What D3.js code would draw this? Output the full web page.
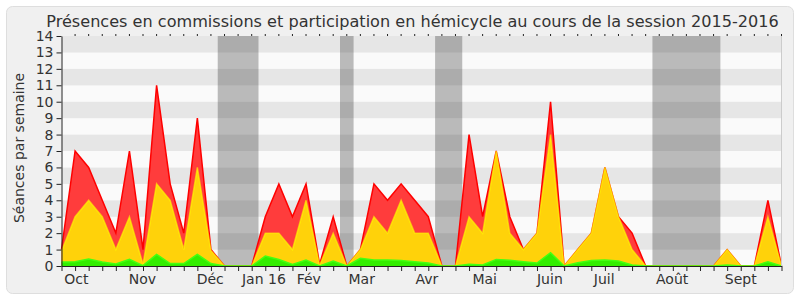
<!DOCTYPE html>
<html>
<head>
<meta charset="utf-8">
<script src="https://d3js.org/d3.v7.min.js"></script>
<style>
  body { margin: 0; background: #fff; }
  text { font-family: "DejaVu Sans", Verdana, sans-serif; fill: #333; }
</style>
</head>
<body>
<script>
const svgWidth = 800,
    svgHeight = 300,
    margin = { top: 36, right: 20, bottom: 34, left: 61.5 },
    width = svgWidth - margin.left - margin.right,
    height = svgHeight - margin.top - margin.bottom;

// one value per week, from the start of the session (week 0) to week 53
var hemicycle = [1, 7, 6, 4, 2, 7, 1, 11, 5, 2, 9, 1, 0, 0, 0, 3, 5, 3, 5, 0.1, 3, 0, 1, 5, 4, 5, 4, 3, 0, 0,
    8, 3, 7, 3, 1, 2, 10, 0, 1, 2, 6, 3, 2, 0, 0, 0, 0, 0, 0, 1, 0, 0, 4, 0];
var commissions = [0.9, 3, 4, 3, 1, 3, 0.1, 5, 4, 1, 6, 0.95, 0, 0, 0, 2, 2, 1, 4, 0.05, 2, 0, 1, 3, 2, 4, 2, 2, 0, 0,
    3, 2, 7, 2, 1, 2, 8, 0, 1, 2, 6, 3, 1, 0, 0, 0, 0, 0, 0, 1, 0, 0, 3, 0];
var interventions = [0.25, 0.26, 0.43, 0.25, 0.12, 0.4, 0.02, 0.71, 0.15, 0.15, 0.71, 0.15, 0, 0, 0, 0.6, 0.4, 0.1, 0.36, 0, 0.3, 0,
    0.47, 0.36, 0.36, 0.33, 0.26, 0.18, 0, 0, 0.1, 0.06, 0.4, 0.35, 0.26, 0.18, 0.81, 0, 0.2, 0.33, 0.36, 0.3, 0.06,
    0, 0, 0, 0, 0, 0, 0.06, 0, 0, 0.26, 0];

// vacations (in weeks)
var vacStart = [11.5, 20.5, 27.5, 43.5],
    vacEnd = [14.5, 21.5, 29.5, 48.5];

// month labels and their position (in weeks)
var months = ["Oct", "Nov", "Déc", "Jan 16", "Fév", "Mar", "Avr", "Mai", "Juin", "Juil", "Août", "Sept"],
    monthPos = [1.1, 5.95, 10.95, 14.9, 18.2, 22.1, 26.9, 31.15, 35.95, 39.95, 44.95, 50];

var yTicks = d3.range(0, 15);
var weeks = d3.range(0, hemicycle.length);

var svg = d3.select("body").append("svg")
    .attr("width", svgWidth)
    .attr("height", svgHeight);

// frame
svg.append("rect")
    .attr("x", 6.5).attr("y", 6.5)
    .attr("width", 787).attr("height", 287)
    .attr("rx", 6)
    .attr("fill", "#f0f0f0")
    .attr("stroke", "#dedede");

svg.append("text")
    .attr("x", 412.5)
    .attr("y", 26.5)
    .attr("text-anchor", "middle")
    .attr("font-size", 16.1)
    .text("Présences en commissions et participation en hémicycle au cours de la session 2015-2016");

var g = svg.append("g")
    .attr("transform", "translate(" + margin.left + "," + margin.top + ")");

var x = d3.scaleLinear().domain([0, weeks.length - 1]).range([0, width + 1.5]),
    y = d3.scaleLinear().domain([0, 14]).range([height, 0]);

// stripes
g.append("g").selectAll("rect")
    .data(yTicks.slice(0, 14))
    .enter().append("rect")
    .attr("x", 0)
    .attr("width", x(weeks.length - 1))
    .attr("y", function (d) { return y(d + 1); })
    .attr("height", function (d) { return y(d) - y(d + 1); })
    .attr("fill", function (d) { return d % 2 ? "#e6e6e6" : "#fafafa"; });

// vacation bands
g.append("g").selectAll("rect")
    .data(vacStart)
    .enter().append("rect")
    .attr("x", function (d) { return x(d); })
    .attr("width", function (d, i) { return x(vacEnd[i]) - x(d); })
    .attr("y", 0)
    .attr("height", height)
    .attr("fill", "rgba(40,40,40,0.3)");

function area(values) {
    return d3.area()
        .x(function (d, i) { return x(i); })
        .y0(y(0))
        .y1(function (d) { return y(d); })(values);
}
function line(values) {
    return d3.line()
        .x(function (d, i) { return x(i); })
        .y(function (d) { return y(d); })(values);
}

var series = [
    { values: hemicycle, fill: "#ff3c3c", stroke: "#ff0000" },
    { values: commissions, fill: "#ffd20a", stroke: "rgba(255,255,0,0.6)" },
    { values: interventions, fill: "#33ee00", stroke: "#44ff11" }
];

series.forEach(function (s) {
    g.append("path")
        .attr("d", area(s.values))
        .attr("fill", s.fill);
    g.append("path")
        .attr("d", line(s.values))
        .attr("fill", "none")
        .attr("stroke", s.stroke)
        .attr("stroke-width", 1.5);
});

// right border
g.append("line")
    .attr("x1", x(weeks.length - 1)).attr("x2", x(weeks.length - 1))
    .attr("y1", 0).attr("y2", height)
    .attr("stroke", "#ccc");

// y axis
var yAxis = g.append("g")
    .call(d3.axisLeft(y).tickValues(yTicks).tickSize(5).tickPadding(3).tickSizeOuter(0));
yAxis.selectAll("text").attr("font-size", 14).attr("fill", "#333")
    .style("font-family", "'DejaVu Sans', Verdana, sans-serif");
yAxis.selectAll("line, path").attr("stroke", "#222");

// bottom week ticks
var xAxis = g.append("g")
    .attr("transform", "translate(0," + height + ")")
    .call(d3.axisBottom(x).tickValues(weeks).tickSize(5).tickFormat("").tickSizeOuter(0));
xAxis.selectAll("line, path").attr("stroke", "#222");

// top small ticks
g.append("g").selectAll("line")
    .data(weeks.slice(1))
    .enter().append("line")
    .attr("x1", function (d) { return x(d); })
    .attr("x2", function (d) { return x(d); })
    .attr("y1", -2).attr("y2", 0)
    .attr("stroke", "#222");

// month labels
g.append("g").selectAll("text")
    .data(months)
    .enter().append("text")
    .attr("x", function (d, i) { return x(monthPos[i]); })
    .attr("y", height + 18)
    .attr("text-anchor", "middle")
    .attr("font-size", 14)
    .text(function (d) { return d; });

svg.append("text")
    .attr("transform", "translate(24,148) rotate(-90)")
    .attr("text-anchor", "middle")
    .attr("font-size", 14)
    .text("Séances par semaine");
</script>
</body>
</html>
